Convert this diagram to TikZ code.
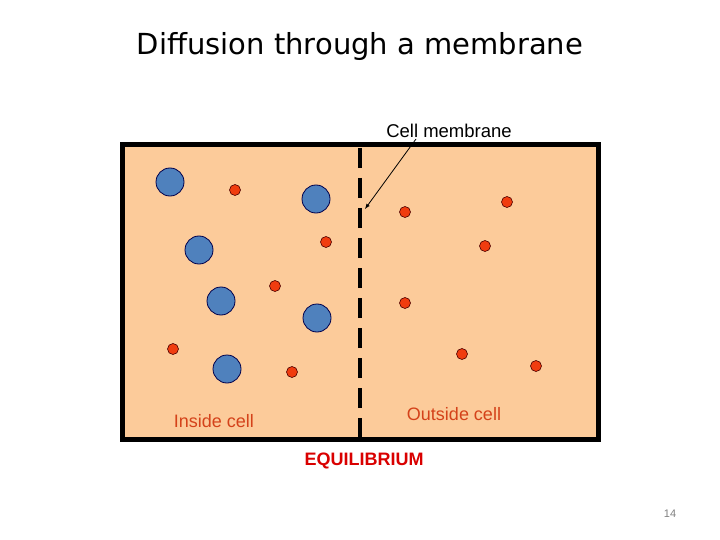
\documentclass[tikz,border=0pt]{standalone}
\usepackage{fontspec}
\setmainfont{Liberation Sans}
\newfontfamily\titlefont{DejaVu Sans}
\definecolor{boxfill}{HTML}{FCCB9A}
\definecolor{blueb}{HTML}{4F81BD}
\definecolor{redb}{HTML}{F03C0F}
\definecolor{labc}{HTML}{D4421A}
\begin{document}
\begin{tikzpicture}[x=1pt,y=-1pt,
  big/.style={circle,draw=black!70!blue,fill=blueb,line width=0.8pt,minimum size=28pt,inner sep=0pt},
  small/.style={circle,draw=black!70!red,fill=redb,line width=0.6pt,minimum size=11pt,inner sep=0pt},
  lab/.style={font=\fontsize{18}{20}\selectfont}]
\useasboundingbox (0,0) rectangle (720,540);
\node[font=\titlefont\fontsize{29}{32}\selectfont] (title) at (360,47) {Diffusion through a membrane};
\draw[line width=5pt,fill=boxfill] (122,145) rectangle (598,439);
\coordinate (mt) at (360,148);
\coordinate (mb) at (360,437);
\draw[line width=3.5pt,dash pattern=on 20pt off 10pt] (mt) -- (mb);
\foreach \n/\x/\y in {b1/170/182,b2/316/199,b3/199/250,b4/221/301,b5/317/318,b6/227/369}
  \node[big] (\n) at (\x,\y) {};
\foreach \n/\x/\y in {s1/235/190,s2/326/242,s3/275/286,s4/173/349,s5/292/372,s6/405/212,s7/507/202,s8/485/246,s9/405/303,s10/462/354,s11/536/366}
  \node[small] (\n) at (\x,\y) {};
\node[font=\fontsize{18.5}{20}\selectfont] (cm) at (449,131) {Cell membrane};
\coordinate (tip) at (365,209);
\draw[-latex,line width=0.8pt] (416,139) -- (tip);
\node[lab,text=labc] (in) at (214,421) {Inside cell};
\node[lab,text=labc] (out) at (454,414) {Outside cell};
\node[text=red!85!black,font=\bfseries\fontsize{18}{20}\selectfont] (eq) at (364,461) {EQUILIBRIUM};
\node[text=gray,font=\fontsize{11}{13}\selectfont] (pg) at (670,514) {14};
\end{tikzpicture}
\end{document}
